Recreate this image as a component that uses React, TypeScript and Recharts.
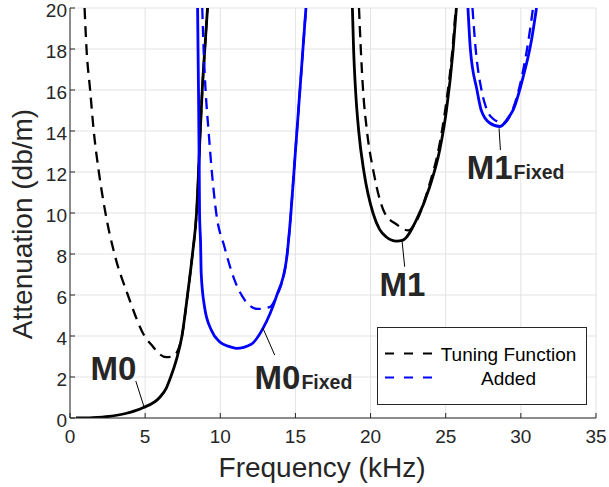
import { LineChart, Line, XAxis, YAxis, CartesianGrid, ReferenceLine, ReferenceDot, Legend } from 'recharts';

const xTicks = [0, 5, 10, 15, 20, 25, 30, 35];
const yTicks = [0, 2, 4, 6, 8, 10, 12, 14, 16, 18, 20];

// first mode (M0)
const m0X = [0.4, 1.5, 2.6, 3.7, 4.85, 5.96, 6.4, 6.7, 7.1, 7.45, 7.82, 8.15, 8.42, 8.67, 8.8, 8.97, 9.15];
const m0Y = [0, 0.02, 0.08, 0.22, 0.5, 1.0, 1.45, 2.0, 2.9, 4.0, 6.0, 8.0, 10, 14, 16, 18, 20];
const m0TuneX = [0.97, 1.1, 1.34, 1.58, 1.92, 2.36, 2.96, 3.85, 4.96, 5.5, 5.9, 6.4, 6.8, 7.18, 7.45, 7.82, 8.15, 8.42, 8.67, 8.8, 8.97, 9.15];
const m0TuneY = [20, 18, 16, 14, 12, 10, 8, 6, 4, 3.5, 3.15, 2.97, 3.0, 3.3, 4.0, 6.0, 8.0, 10, 14, 16, 18, 20];
const m0FixedX = [8.49, 8.55, 8.6, 8.62, 8.69, 8.73, 8.95, 9.4, 9.95, 10.62, 11.07, 12.06, 12.84, 13.73, 14.4, 14.7, 14.9, 15.1, 15.3, 15.5, 15.7];
const m0FixedY = [20, 16, 12, 10, 8.5, 7.06, 5.43, 4.29, 3.72, 3.48, 3.4, 3.6, 4.37, 5.92, 7.7, 10, 12, 14, 16, 18, 20];
const m0AddedX = [8.8, 8.89, 9.02, 9.22, 9.44, 9.73, 10.28, 10.95, 11.62, 12.48, 13.28, 13.73, 14.4, 14.7, 14.9, 15.1, 15.3, 15.5, 15.7];
const m0AddedY = [20, 18, 16, 14, 12, 10, 8.34, 6.73, 5.76, 5.32, 5.41, 5.92, 7.7, 10, 12, 14, 16, 18, 20];

// second mode (M1)
const m1X = [18.79, 18.87, 19.0, 19.21, 19.56, 20.16, 20.6, 21.05, 21.72, 22.16, 23.05, 23.93, 24.6, 25.05, 25.49, 25.71];
const m1Y = [20, 18, 16, 14, 12, 10, 9.2, 8.83, 8.63, 8.68, 9.66, 11.27, 13.07, 15.02, 17.95, 20];
const m1TuneX = [19.23, 19.35, 19.5, 19.76, 20.2, 20.94, 21.72, 22.5, 23.05, 23.9, 24.55, 25.0, 25.45, 25.67];
const m1TuneY = [20, 18, 16, 14, 12, 10, 9.45, 9.15, 9.6, 11.35, 13.2, 15.2, 18.0, 20];
const m1FixedX = [26.48, 26.64, 27.08, 27.37, 27.93, 28.6, 29.26, 29.48, 30.15, 30.71, 31.04];
const m1FixedY = [20, 18, 16, 15, 14.39, 14.22, 14.75, 15.02, 16.63, 18.44, 20];
const m1AddedX = [26.78, 27.0, 27.38, 27.75, 28.15, 28.48, 28.8, 29.4, 30.05, 30.48, 30.81];
const m1AddedY = [20, 17.95, 16.0, 15.02, 14.6, 14.45, 14.35, 14.95, 16.6, 18.3, 20];

// mode labels and their pointer lines
const labelNames = ['M0', 'M0', 'M1', 'M1'];
const labelSubs = ['', 'Fixed', '', 'Fixed'];
const labelX = [1.37, 12.28, 20.6, 26.4];
const labelY = [1.85, 1.41, 5.95, 11.66];
const pointerFrom = [[4.38, 1.8], [12.84, 4.38], [22.09, 8.68], [28.55, 14.13]];
const pointerTo = [[4.91, 0.58], [13.62, 3.07], [22.27, 7.38], [28.64, 13.07]];

const legendOrder = ['Tuning Function', 'Added'];

const zip = (xs: number[], ys: number[]) => xs.map((x, i) => ({ x, y: ys[i] }));

const BLUE = '#0000ff';
const INK = '#262626';
const FONT = '"Liberation Sans", Arial, Helvetica, sans-serif';

const series = [
  { key: 'm0', data: zip(m0X, m0Y), color: '#000', dash: undefined, width: 2.8, name: 'M0' },
  { key: 'm0t', data: zip(m0TuneX, m0TuneY), color: '#000', dash: '11 7', width: 2.3, name: 'Tuning Function', legend: true },
  { key: 'm0f', data: zip(m0FixedX, m0FixedY), color: BLUE, dash: undefined, width: 2.8, name: 'M0 Fixed' },
  { key: 'm0a', data: zip(m0AddedX, m0AddedY), color: BLUE, dash: '11 7', width: 2.3, name: 'Added', legend: true },
  { key: 'm1', data: zip(m1X, m1Y), color: '#000', dash: undefined, width: 2.8, name: 'M1' },
  { key: 'm1t', data: zip(m1TuneX, m1TuneY), color: '#000', dash: '11 7', width: 2.3, name: 'M1 tuning' },
  { key: 'm1f', data: zip(m1FixedX, m1FixedY), color: BLUE, dash: undefined, width: 2.8, name: 'M1 Fixed' },
  { key: 'm1a', data: zip(m1AddedX, m1AddedY), color: BLUE, dash: '11 7', width: 2.3, name: 'M1 added' },
];

function LegendBox(props: any) {
  const items = (props.payload || [])
    .filter((p: any) => legendOrder.includes(p.value))
    .sort((a: any, b: any) => legendOrder.indexOf(a.value) - legendOrder.indexOf(b.value));
  return (
    <svg width={210} height={78} style={{ display: 'block' }}>
      <rect x={0.5} y={0.5} width={209} height={77} fill="#fff" stroke={INK} strokeWidth={1} />
      {items.map((p: any, i: number) => (
        <g key={p.value}>
          <line x1={8} x2={56} y1={26.5 + i * 24} y2={26.5 + i * 24} stroke={p.color} strokeWidth={2} strokeDasharray="9 10" />
          <text x={131.5} y={34 + i * 24} textAnchor="middle" fontSize={19} fill="#000" fontFamily={FONT}>
            {p.value}
          </text>
        </g>
      ))}
    </svg>
  );
}

function ModeLabel({ cx, cy, main, sub }: any) {
  return (
    <text x={cx} y={cy} fill={INK} fontFamily={FONT} fontWeight="bold" fontSize={33}>
      <tspan>{main}</tspan>
      {sub ? <tspan fontSize={19.5} dx={1}>{sub}</tspan> : null}
    </text>
  );
}

export default function App() {
  return (
    <div style={{ position: 'absolute', left: 0, top: 0, background: '#fff' }}>
      <LineChart width={609} height={487} margin={{ top: 8, right: 13, left: 0, bottom: 0 }} style={{ fontFamily: FONT }}>
        <CartesianGrid stroke="#e3e3e3" strokeWidth={1} />
        <XAxis
          dataKey="x"
          type="number"
          domain={[0, 35]}
          ticks={xTicks}
          interval={0}
          allowDataOverflow
          height={69}
          tickSize={-5}
          tickMargin={17}
          tick={{ fill: INK, fontSize: 19, fontFamily: FONT }}
          axisLine={{ stroke: INK }}
          tickLine={{ stroke: INK }}
          label={{
            content: (p: any) => (
              <text x={p.viewBox.x + p.viewBox.width / 2 - 11} y={p.viewBox.y + 59} textAnchor="middle" fontSize={28} fill={INK} fontFamily={FONT}>
                Frequency (kHz)
              </text>
            ),
          }}
        />
        <XAxis xAxisId="top" orientation="top" dataKey="x" type="number" domain={[0, 35]} ticks={xTicks} interval={0} height={0} tick={false} tickSize={-5} axisLine={{ stroke: INK }} tickLine={{ stroke: INK }} />
        <YAxis
          type="number"
          domain={[0, 20]}
          ticks={yTicks}
          interval={0}
          allowDataOverflow
          width={70}
          tickSize={-5}
          tickMargin={8}
          tick={{ fill: INK, fontSize: 19, fontFamily: FONT, dy: 2 }}
          axisLine={{ stroke: INK }}
          tickLine={{ stroke: INK }}
          label={{
            content: (p: any) => {
              const cx = 31.5;
              const cy = p.viewBox.y + p.viewBox.height / 2 + 11;
              return (
                <text x={cx} y={cy} transform={`rotate(-90 ${cx} ${cy})`} textAnchor="middle" fontSize={28} fill={INK} fontFamily={FONT}>
                  Attenuation (db/m)
                </text>
              );
            },
          }}
        />
        <YAxis yAxisId="right" orientation="right" type="number" domain={[0, 20]} ticks={yTicks} interval={0} width={0} tick={false} tickSize={-5} axisLine={{ stroke: INK }} tickLine={{ stroke: INK }} />
        {series.map((s) => (
          <Line
            key={s.key}
            data={s.data}
            dataKey="y"
            name={s.name}
            type="monotone"
            stroke={s.color}
            strokeWidth={s.width}
            strokeDasharray={s.dash}
            dot={false}
            activeDot={false}
            legendType={s.legend ? 'line' : 'none'}
            isAnimationActive={false}
          />
        ))}
        {pointerFrom.map((a, i) => (
          <ReferenceLine
            key={'ptr' + i}
            segment={[{ x: a[0], y: a[1] }, { x: pointerTo[i][0], y: pointerTo[i][1] }]}
            stroke="#000"
            strokeWidth={1}
          />
        ))}
        {labelNames.map((n, i) => (
          <ReferenceDot
            key={'lbl' + i}
            x={labelX[i]}
            y={labelY[i]}
            r={0}
            ifOverflow="visible"
            shape={(p: any) => <ModeLabel cx={p.cx} cy={p.cy} main={n} sub={labelSubs[i]} />}
          />
        ))}
        <Legend
          layout="vertical"
          align="center"
          verticalAlign="middle"
          content={LegendBox}
          wrapperStyle={{ left: 377, top: 327, width: 210, height: 78 }}
        />
      </LineChart>
    </div>
  );
}
